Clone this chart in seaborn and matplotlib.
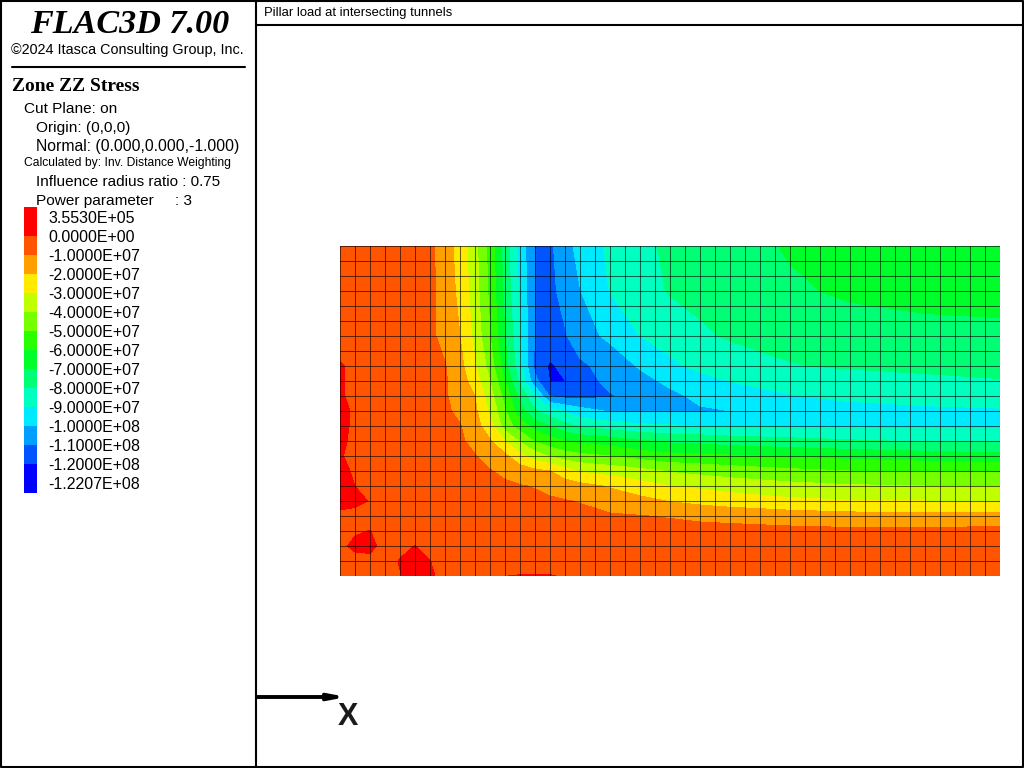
# Zone ZZ stress contour, FLAC3D style plot
import numpy as np
import matplotlib
matplotlib.use('Agg')
import matplotlib.pyplot as plt
from matplotlib.colors import ListedColormap, BoundaryNorm
import seaborn as sns

# mesh positions of the sampled nodes (zone index)
x_nodes = [0, 1, 2, 3, 4, 5, 6, 7, 8, 9, 10, 11, 12, 13, 14, 15, 16, 18, 20, 22, 24, 26, 30, 34, 39, 44]
y_nodes = [22, 19, 16, 14, 13, 12, 11, 10, 9, 8, 7, 6, 5, 4, 3, 2, 1, 0]

# szz in MPa, one list per row, top to bottom
row_y22 = [-2, -3, -3, -4, -4, -5, -8, -15.3, -24, -37, -54, -75, -94, -110, -112, -103.5, -97, -88, -82, -78.5, -76, -74, -69, -67, -65, -64]
row_y19 = [-2, -3, -3, -4, -4, -5, -7, -14.5, -22.5, -35.5, -52.5, -73, -92, -110, -113, -106, -100.3, -89.7, -84, -79.3, -77.5, -75.5, -71.5, -68.5, -67, -66.5]
row_y16 = [-3, -3, -4, -4, -5, -6, -8, -13, -20, -33, -50, -70, -89, -110.5, -114, -111, -104, -98, -90, -86, -81.5, -79, -77, -74.5, -73, -72.4]
row_y14 = [0.5, -1, -3, -4, -5, -6, -7.5, -9.5, -17, -29, -44, -66, -87, -113, -121.5, -117, -112, -106, -99, -92, -87.5, -85, -80.5, -79, -78, -77.5]
row_y13 = [0.5, -1, -3, -4, -5, -6, -7.5, -9, -15, -25, -40, -60, -83, -107, -120.5, -120.2, -115, -107, -103, -98, -93.5, -89.8, -86, -84, -82, -80.5]
row_y12 = [0.5, -1, -3, -4, -5, -6, -7, -9, -14, -20, -36, -54, -73, -88, -111, -113, -113, -111, -106, -102, -98, -96, -90.5, -87.7, -86.4, -85.7]
row_y11 = [2, -1, -3, -4, -5, -6, -7, -8.5, -12, -18, -32, -49, -66, -79, -86, -91, -96, -101, -101.5, -101.5, -101, -100, -97, -94, -92, -91]
row_y10 = [1.5, -1, -3, -4, -5, -6, -7, -8, -9.5, -16, -26, -45, -55, -64, -70, -77, -81, -85, -88, -89, -90, -90.5, -91, -91.5, -92, -92]
row_y9 = [0.9, -1, -3, -4, -5, -6, -7, -8, -9, -12, -19, -30, -41, -51, -56, -60, -62, -65, -69, -72, -73, -75, -77, -79, -81, -82]
row_y8 = [0.3, -1, -3, -4, -5, -6, -7, -8, -9, -9.7, -14, -18, -27, -35, -41, -45, -47.5, -50, -54, -57, -58, -59, -61, -63, -65, -67]
row_y7 = [2, -1, -3, -4, -5, -6, -7, -7.5, -8, -8.5, -9.5, -12, -15, -18, -20, -26, -31, -34, -37, -41, -43, -45, -48, -50, -50.5, -51]
row_y6 = [3, -0.05, -3, -4, -5, -5.5, -6, -6.5, -7, -7.5, -8, -8.5, -9.5, -10.5, -13, -15, -17, -21, -26, -30, -32, -34, -37, -39, -40, -40]
row_y5 = [3, 1.5, -0.3, -4, -4.5, -5, -5, -5.5, -6, -6, -6.5, -7, -7.5, -8, -8.5, -9.5, -10.5, -14, -17, -20.5, -23, -25, -28, -29.5, -30, -30]
row_y4 = [-2, -2, -2.5, -3, -3.5, -4, -4.5, -4.5, -5, -5, -5.5, -5.5, -6, -6, -6.5, -7, -7.5, -9, -9.7, -10.7, -12, -13, -15, -16.5, -17, -17]
row_y3 = [-2, -0.5, 0.1, -2, -3, -3, -3.5, -4, -4, -4, -4.5, -4.5, -5, -5, -5, -5, -5.5, -6, -6, -6.5, -7, -7, -7.5, -8, -8, -7]
row_y2 = [-1, 1, 1.5, -2, -1.5, 0.1, -3, -3, -4, -4, -4, -4, -4, -4, -4, -4, -5, -5, -5, -5, -5, -5, -5, -5, -5, -5]
row_y1 = [-2, -1.5, -1.5, -2, 0.3, 1.5, 0.1, -3, -3, -3, -3, -3, -3, -3, -3, -3, -4, -4, -4, -4, -4, -4, -4, -4, -4, -4]
row_y0 = [-2, -2, -2, -3, -0.2, 1.5, 1, -2, -2, -2, -2, -0.1, 0.3, 0.3, 0.3, -0.5, -2, -3, -3, -3, -3, -3, -3, -3, -3, -3]

levels = [-122.07, -120, -110, -100, -90, -80, -70, -60, -50, -40, -30, -20, -10, 0, 0.3553]
band_colors = ['#0000ff', '#0055ff', '#009fff', '#00eaff', '#00ffc0', '#00ff75', '#00ff2a',
               '#2aff00', '#75ff00', '#c0ff00', '#ffea00', '#ff9f00', '#ff5500', '#ff0000']
legend_labels = ['3.5530E+05', '0.0000E+00', '-1.0000E+07', '-2.0000E+07', '-3.0000E+07', '-4.0000E+07',
                 '-5.0000E+07', '-6.0000E+07', '-7.0000E+07', '-8.0000E+07', '-9.0000E+07', '-1.0000E+08',
                 '-1.1000E+08', '-1.2000E+08', '-1.2207E+08']

info_lines = [
    ('Cut Plane: on', 24, 113, 11.1),
    ('Origin: (0,0,0)', 36, 132, 11.1),
    ('Normal: (0.000,0.000,-1.000)', 36, 151, 11.3),
    ('Calculated by: Inv. Distance Weighting', 24, 166, 8.7),
    ('Influence radius ratio : 0.75', 36, 186, 11.0),
    ('Power parameter     : 3', 36, 205, 11.1),
]

sns.set_theme(style='white')
plt.rcParams['font.family'] = ['Liberation Sans', 'DejaVu Sans']

W, H = 1024, 768
fig = plt.figure(figsize=(10.24, 7.68), dpi=100, facecolor='white')

# contour plot, axes sit exactly on the model
ax = fig.add_axes([340 / W, (H - 576) / H, 660 / W, 330 / H])
szz = np.array([row_y22, row_y19, row_y16, row_y14, row_y13, row_y12, row_y11, row_y10, row_y9, row_y8,
                row_y7, row_y6, row_y5, row_y4, row_y3, row_y2, row_y1, row_y0])
cmap = ListedColormap(band_colors)
cmap.set_over('#ff0000')
cmap.set_under('#0000ff')
norm = BoundaryNorm(levels, cmap.N)
ax.contourf(x_nodes, y_nodes, szz, levels=levels, cmap=cmap, norm=norm, extend='both', zorder=1)
ax.set_xlim(0, 44)
ax.set_ylim(0, 22)
ax.set_xticks(range(45))
ax.set_yticks(range(23))
ax.set_axisbelow(False)
ax.grid(True, color='black', lw=0.75, alpha=0.6)
ax.tick_params(left=False, bottom=False, labelleft=False, labelbottom=False)
sns.despine(ax=ax, left=True, bottom=True)

# legend swatch as a heatmap, first and last band are taller
leg_ax = fig.add_axes([24 / W, (H - 493) / H, 13 / W, 286 / H])
cells = np.repeat(np.arange(14), [3] + [2] * 12 + [3]).reshape(-1, 1)
sns.heatmap(cells, ax=leg_ax, cmap=ListedColormap(band_colors[::-1]), cbar=False,
            xticklabels=False, yticklabels=False)

# frame and text in pixel coordinates
ov = fig.add_axes([0, 0, 1, 1], zorder=5)
ov.set_xlim(0, W)
ov.set_ylim(H, 0)
ov.axis('off')
ov.patch.set_alpha(0)

ov.plot([1, 1, W - 1, W - 1, 1], [1, H - 1, H - 1, 1, 1], color='black', lw=1.5, clip_on=False)
ov.plot([256, 256], [0, H], color='black', lw=1.5)
ov.plot([256, W], [24.5, 24.5], color='black', lw=1.5)
ov.plot([12, 245], [67, 67], color='black', lw=1.5)

ov.text(129.5, 33, 'FLAC3D 7.00', family='Liberation Serif', style='italic', weight='bold', size=24.6,
        ha='center', va='baseline', color='black')
ov.text(127.5, 54, '©2024 Itasca Consulting Group, Inc.', size=10.4, ha='center', va='baseline', color='black')
ov.text(12, 91, 'Zone ZZ Stress', family='Liberation Serif', weight='bold', size=14, va='baseline', color='black')
ov.text(264, 16, 'Pillar load at intersecting tunnels', size=9.4, va='baseline', color='black')

for txt, px, py, fs in info_lines:
    ov.text(px, py, txt, size=fs, va='baseline', color='black')

for i, lab in enumerate(legend_labels):
    ov.text(48, 223 + 19 * i, lab, size=11.5, va='baseline', color='black')

ov.annotate('', xy=(347, 697), xytext=(257, 697),
            arrowprops=dict(arrowstyle='-|>,head_length=0.75,head_width=0.14', color='black', lw=2.8, shrinkA=0, shrinkB=0))
ov.text(348, 725, 'X', weight='bold', size=22, ha='center', va='baseline', color='#1a1a1a')

fig.savefig('out.png', dpi=100)
